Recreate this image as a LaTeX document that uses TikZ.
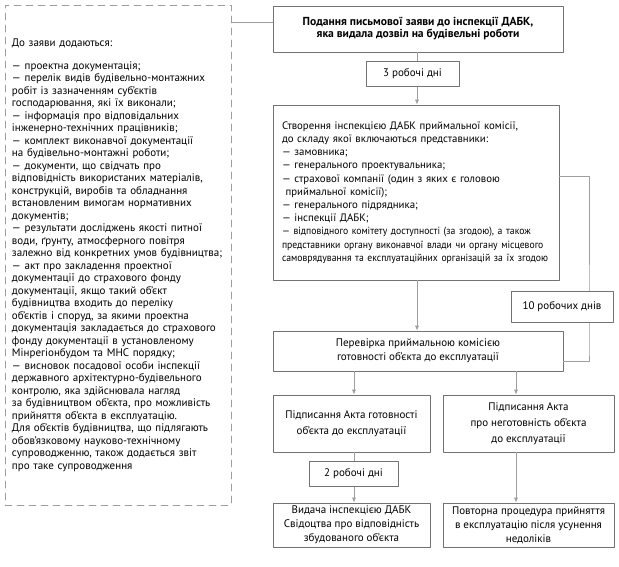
\documentclass[tikz,border=0pt]{standalone}
\usepackage{fontspec}
\setmainfont{PT Sans}
\newfontfamily\narrowfont[FakeStretch=0.93]{PT Sans}
\usetikzlibrary{arrows.meta}

\definecolor{boxgray}{gray}{0.45}
\definecolor{linegray}{gray}{0.62}

\newcommand\narrowline[1]{\mbox{\narrowfont\fontsize{10.4}{13.2}\selectfont #1}}

\begin{document}
\begin{tikzpicture}[x=1pt, y=-1pt, >={Latex[length=5pt,width=4pt]}, line cap=round, line join=round]

% --- Stijlen ---
\tikzset{
    stage/.style={
        draw=boxgray,
        line width=0.7pt,
        fill=white,
        align=center,
        inner sep=3pt,
        font=\fontsize{11}{14}\selectfont
    },
    tallstage/.style={
        stage,
        font=\fontsize{11}{16}\selectfont
    },
    daysbox/.style={
        stage
    },
    listbox/.style={
        draw=linegray,
        line width=0.8pt,
        dash pattern=on 7pt off 5pt,
        align=left,
        inner xsep=7pt,
        font=\fontsize{11}{12.5}\selectfont
    },
    flow/.style={
        draw=linegray,
        line width=0.7pt
    }
}

\useasboundingbox (0,0) rectangle (619,566);

% --- Rijstroken voor de pijlen ---
\coordinate (mainlane) at (417,0);
\coordinate (leftlane) at (354,0);
\coordinate (rightlane) at (516,0);
\coordinate (sidelane) at (589,0);

% --- Lijst met bijlagen ---
\node[listbox, text width=212pt, minimum width=226pt, minimum height=500pt] (docs) at (118,255)
    {До заяви додаються:\\[10.5pt]
     — проектна документація;\\
     — перелік видів будівельно-монтажних\\
     робіт із зазначенням суб’єктів\\
     господарювання, які їх виконали;\\
     — інформація про відповідальних\\
     інженерно-технічних працівників;\\
     — комплект виконавчої документації\\
     на будівельно-монтажні роботи;\\
     — документи, що свідчать про\\
     відповідність використаних матеріалів,\\
     конструкцій, виробів та обладнання\\
     встановленим вимогам нормативних\\
     документів;\\
     — результати досліджень якості питної\\
     води, ґрунту, атмосферного повітря\\
     залежно від конкретних умов будівництва;\\
     — акт про закладення проектної\\
     документації до страхового фонду\\
     документації, якщо такий об’єкт\\
     будівництва входить до переліку\\
     об’єктів і споруд, за якими проектна\\
     документація закладається до страхового\\
     фонду документації в установленому\\
     Мінрегіонбудом та МНС порядку;\\
     — висновок посадової особи інспекції\\
     державного архітектурно-будівельного\\
     контролю, яка здійснювала нагляд\\
     за будівництвом об’єкта, про можливість\\
     прийняття об’єкта в експлуатацію.\\
     Для об’єктів будівництва, що підлягають\\
     обов’язковому науково-технічному\\
     супроводженню, також додається звіт\\
     про таке супроводження};

% --- Hoofdstroom ---
\node[stage, minimum width=290pt, minimum height=46pt, font=\fontsize{11.6}{12}\selectfont\bfseries] (submit) at (418,29)
    {Подання письмової заяви до інспекції ДАБК,\\
     яка видала дозвіл на будівельні роботи};

\node[stage, align=left, text width=268pt, minimum width=286pt, minimum height=175pt, inner xsep=9pt,
      font=\fontsize{10.8}{13.2}\selectfont] (commission) at (416,192.5)
    {Створення інспекцією ДАБК приймальної комісії,\\
     до складу якої включаються представники:\\
     — замовника;\\
     — генерального проектувальника;\\
     — страхової компанії (один з яких є головою\\
     \ приймальної комісії);\\
     — генерального підрядника;\\
     — інспекції ДАБК;\\
     \narrowline{— відповідного комітету доступності (за згодою), а також}\\
     \narrowline{представники органу виконавчої влади чи органу місцевого}\\
     \narrowline{самоврядування та експлуатаційних організацій за їх згодою}};

\node[stage, minimum width=290pt, minimum height=40pt] (check) at (418,351)
    {Перевірка приймальною комісією\\
     готовності об’єкта до експлуатації};

\node[tallstage, minimum width=157pt, minimum height=57pt] (actready) at (351.5,423.5)
    {Підписання Акта готовності\\
     об’єкта до експлуатації};

\node[tallstage, minimum width=171pt, minimum height=57pt] (actnotready) at (528.5,423.5)
    {Підписання Акта\\
     про неготовність об’єкта\\
     до експлуатації};

\node[stage, minimum width=157pt, minimum height=44pt] (certificate) at (351.5,525)
    {Видача інспекцією ДАБК\\
     Свідоцтва про відповідність\\
     збудованого об’єкта};

\node[stage, minimum width=171pt, minimum height=44pt] (repeat) at (528.5,525)
    {Повторна процедура прийняття\\
     в експлуатацію після усунення\\
     недоліків};

% --- Verbindingen ---
\coordinate (docsjoin) at ([yshift=7pt]submit.west);
\draw[flow] (docsjoin -| docs.east) -- (docsjoin);

\draw[flow, ->] (mainlane |- submit.south) -- (mainlane |- commission.north);
\draw[flow, ->] (mainlane |- commission.south) -- (mainlane |- check.north);

\draw[flow] ([yshift=16.5pt]commission.east) -| (sidelane |- check.east)
    -- ([yshift=-10pt]check.east -| sidelane) -- ([yshift=-10pt]check.east);

\draw[flow, ->] (leftlane |- check.south) -- (leftlane |- actready.north);
\draw[flow, ->] (rightlane |- check.south) -- (rightlane |- actnotready.north);
\draw[flow, ->] (leftlane |- actready.south) -- (leftlane |- certificate.north);
\draw[flow, ->] (rightlane |- actnotready.south) -- (rightlane |- repeat.north);

% --- Termijnen ---
\node[daysbox, minimum width=93pt, minimum height=25pt] (days3) at (412.5,73.5) {3 робочі дні};
\node[daysbox, minimum width=102pt, minimum height=31pt] (days10) at (562,306.5) {10 робочих днів};
\node[daysbox, minimum width=89pt, minimum height=25pt] (days2) at (353.5,473.5) {2 робочі дні};

\end{tikzpicture}
\end{document}
